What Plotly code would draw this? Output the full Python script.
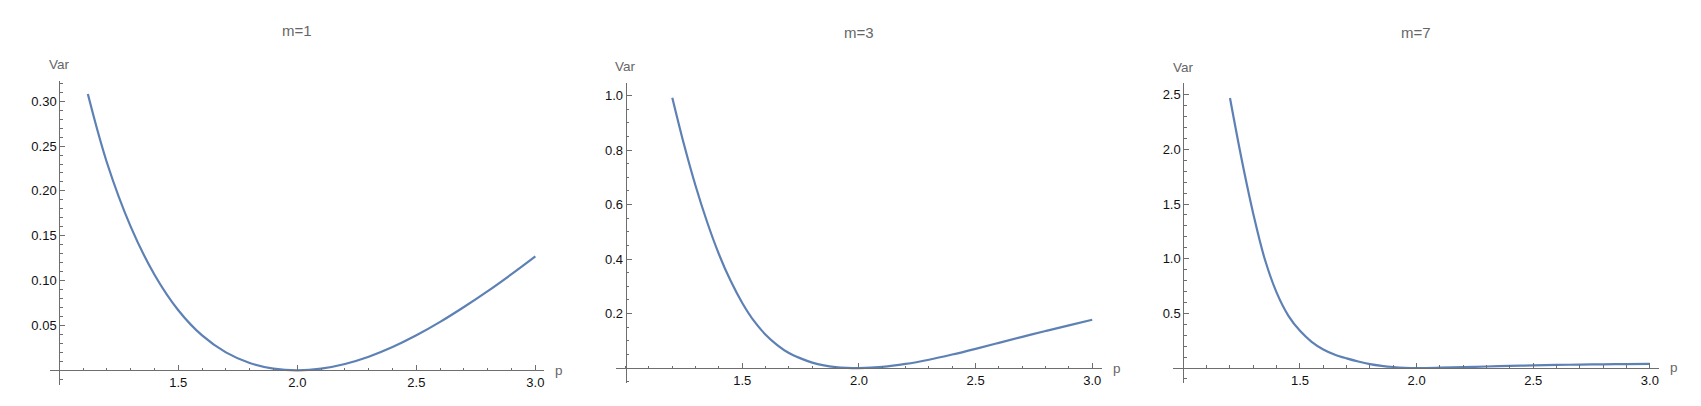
import plotly.graph_objects as go

# The page body has the browser's default 8px margin, so the figure is drawn
# 8px in from the window's top-left corner.
OFF = 8
W, H = 1701 - OFF, 406 - OFF

# ---- data ----
titles = ["m=1", "m=3", "m=7"]

p_m1 = [1.12, 1.2, 1.3, 1.4, 1.5, 1.6, 1.7, 1.8, 1.9, 2.0,
        2.1, 2.2, 2.3, 2.4, 2.5, 2.6, 2.7, 2.8, 2.9, 3.0]
v_m1 = [0.308, 0.2317, 0.1602, 0.1066, 0.0670, 0.0389, 0.0200, 0.0082, 0.0019, 0.0,
        0.0018, 0.0070, 0.0151, 0.0259, 0.0390, 0.0540, 0.0706, 0.0883, 0.1072, 0.127]

p_m3 = [1.2, 1.25, 1.3, 1.35, 1.4, 1.45, 1.5, 1.55, 1.6, 1.65, 1.7, 1.75, 1.8, 1.85, 1.9, 1.95, 2.0,
        2.1, 2.2, 2.3, 2.4, 2.5, 2.6, 2.7, 2.8, 2.9, 3.0]
v_m3 = [0.992, 0.821, 0.668, 0.534, 0.4176, 0.320, 0.2388, 0.1728, 0.1224, 0.0844, 0.0549, 0.0355,
        0.0200, 0.0098, 0.0036, 0.0008, 0.0,
        0.0042, 0.0150, 0.0305, 0.0495, 0.0705, 0.0925, 0.1145, 0.1360, 0.1568, 0.1770]

p_m7 = [1.2, 1.25, 1.3, 1.35, 1.4, 1.45, 1.5, 1.55, 1.6, 1.65, 1.7, 1.75, 1.8, 1.85, 1.9, 1.95, 2.0,
        2.1, 2.2, 2.3, 2.4, 2.5, 2.6, 2.7, 2.8, 2.9, 3.0]
v_m7 = [2.47, 1.91, 1.41, 0.99, 0.69, 0.48, 0.34, 0.24, 0.17, 0.122, 0.088, 0.0595, 0.036, 0.020,
        0.009, 0.0025, 0.0,
        0.003, 0.008, 0.0135, 0.019, 0.024, 0.028, 0.0315, 0.034, 0.036, 0.0375]

x_tickvals = [1.5, 2.0, 2.5, 3.0]
x_ticktext = ["1.5", "2.0", "2.5", "3.0"]
y_tickvals = [
    [0.05, 0.10, 0.15, 0.20, 0.25, 0.30],
    [0.2, 0.4, 0.6, 0.8, 1.0],
    [0.5, 1.0, 1.5, 2.0, 2.5],
]
y_ticktext = [
    ["0.05", "0.10", "0.15", "0.20", "0.25", "0.30"],
    ["0.2", "0.4", "0.6", "0.8", "1.0"],
    ["0.5", "1.0", "1.5", "2.0", "2.5"],
]
y_minor_dtick = [0.01, 0.05, 0.1]

# ---- layout geometry (window pixels) ----
x_ranges = [[0.961, 3.038], [0.957, 3.041], [0.957, 3.040]]
y_ranges = [[-0.0164, 0.3229], [-0.056, 1.047], [-0.14, 2.605]]
px_x = [[50.0, 544.4], [615.6, 1101.8], [1173.3, 1659.2]]
px_y = [[80.7, 385.0], [82.7, 383.3], [83.3, 383.3]]
title_y = [31.0, 32.0, 32.0]

LINE_COL = "#5E81B5"
AX_COL = "#6e6e6e"
LBL_COL = "#666666"
TICK_COL = "#111111"
FONT = "Liberation Sans, Arial, sans-serif"


def fx(px):
    return (px - OFF) / W


def fy(py):
    return 1 - (py - OFF) / H


series = [(p_m1, v_m1), (p_m3, v_m3), (p_m7, v_m7)]

fig = go.Figure()
layout = dict(width=W, height=H, margin=dict(l=0, r=0, t=0, b=0),
              plot_bgcolor="white", paper_bgcolor="white", showlegend=False)
annotations = []

for i, (p, v) in enumerate(series):
    sfx = "" if i == 0 else str(i + 1)
    fig.add_trace(go.Scatter(x=p, y=v, mode="lines",
                             line=dict(color=LINE_COL, width=2.2, shape="spline", smoothing=1.0),
                             xaxis="x" + sfx, yaxis="y" + sfx, hoverinfo="skip"))
    xd = [fx(px_x[i][0]), fx(px_x[i][1])]
    yd = [fy(px_y[i][1]), fy(px_y[i][0])]
    xr, yr = x_ranges[i], y_ranges[i]
    # axes cross at (1, 0)
    x_pos = yd[0] + (0 - yr[0]) / (yr[1] - yr[0]) * (yd[1] - yd[0])
    y_pos = xd[0] + (1 - xr[0]) / (xr[1] - xr[0]) * (xd[1] - xd[0])
    layout["xaxis" + sfx] = dict(
        domain=xd, range=xr, anchor="free", position=x_pos,
        showline=True, linecolor=AX_COL, linewidth=1,
        showgrid=False, zeroline=False,
        ticks="inside", ticklen=5, tickwidth=1, tickcolor=AX_COL,
        tickmode="array", tickvals=x_tickvals, ticktext=x_ticktext,
        minor=dict(ticks="inside", ticklen=2.5, tickwidth=1, tickcolor=AX_COL,
                   tickmode="linear", tick0=0, dtick=0.1, showgrid=False),
        tickfont=dict(family=FONT, size=13, color=TICK_COL),
    )
    layout["yaxis" + sfx] = dict(
        domain=yd, range=yr, anchor="free", position=y_pos,
        showline=True, linecolor=AX_COL, linewidth=1,
        showgrid=False, zeroline=False,
        ticks="inside", ticklen=5, tickwidth=1, tickcolor=AX_COL,
        tickmode="array", tickvals=y_tickvals[i], ticktext=y_ticktext[i],
        minor=dict(ticks="inside", ticklen=2.5, tickwidth=1, tickcolor=AX_COL,
                   tickmode="linear", tick0=0, dtick=y_minor_dtick[i], showgrid=False),
        tickfont=dict(family=FONT, size=13, color=TICK_COL),
    )
    # title
    cx = (px_x[i][0] + px_x[i][1]) / 2
    annotations.append(dict(text=titles[i], x=fx(cx), y=fy(title_y[i]), xref="paper", yref="paper",
                            showarrow=False, xanchor="center", yanchor="middle",
                            font=dict(family=FONT, size=15, color=LBL_COL)))
    # axis labels
    annotations.append(dict(text="Var", x=y_pos, y=fy(px_y[i][0] - 16),
                            xref="paper", yref="paper", showarrow=False,
                            xanchor="center", yanchor="middle",
                            font=dict(family=FONT, size=13.5, color=LBL_COL)))
    annotations.append(dict(text="p", x=fx(px_x[i][1] + 15), y=x_pos,
                            xref="paper", yref="paper", showarrow=False,
                            xanchor="center", yanchor="middle",
                            font=dict(family=FONT, size=13.5, color=LBL_COL)))

layout["annotations"] = annotations
fig.update_layout(**layout)
fig.write_html("out.html")
